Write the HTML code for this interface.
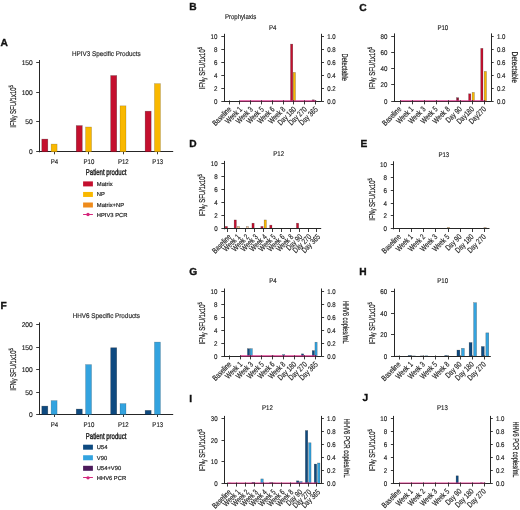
<!DOCTYPE html><html><head><meta charset="utf-8"><style>html,body{margin:0;padding:0;background:#fff;}svg{display:block;filter:blur(0.35px);}text{font-family:"Liberation Sans",sans-serif;text-rendering:geometricPrecision;}</style></head><body>
<svg width="520" height="510" viewBox="0 0 520 510">
<rect width="520" height="510" fill="#fff"/>
<text x="0.6" y="46.3" font-size="10.2" font-weight="bold" fill="#111" stroke="#111" stroke-width="0.35">A</text>
<text transform="translate(106.3,55.5) scale(0.915,1)" font-size="6.9" text-anchor="middle" font-weight="normal" fill="#222" stroke="#222" stroke-width="0.15" >HPIV3 Specific Products</text>
<line x1="39.5" y1="60" x2="39.5" y2="152.3" stroke="#262626" stroke-width="1.0"/>
<line x1="36.2" y1="151.5" x2="39.2" y2="151.5" stroke="#262626" stroke-width="0.9"/>
<text transform="translate(32.8,154.3) scale(0.97,1)" font-size="6.9" text-anchor="end" font-weight="normal" fill="#222222" stroke="#222222" stroke-width="0.15" >0</text>
<line x1="36.2" y1="121.5" x2="39.2" y2="121.5" stroke="#262626" stroke-width="0.9"/>
<text transform="translate(32.8,124.4) scale(0.97,1)" font-size="6.9" text-anchor="end" font-weight="normal" fill="#222222" stroke="#222222" stroke-width="0.15" >50</text>
<line x1="36.2" y1="92.5" x2="39.2" y2="92.5" stroke="#262626" stroke-width="0.9"/>
<text transform="translate(32.8,94.5) scale(0.97,1)" font-size="6.9" text-anchor="end" font-weight="normal" fill="#222222" stroke="#222222" stroke-width="0.15" >100</text>
<line x1="36.2" y1="62.5" x2="39.2" y2="62.5" stroke="#262626" stroke-width="0.9"/>
<text transform="translate(32.8,64.6) scale(0.97,1)" font-size="6.9" text-anchor="end" font-weight="normal" fill="#222222" stroke="#222222" stroke-width="0.15" >150</text>
<line x1="38.7" y1="151.5" x2="173.2" y2="151.5" stroke="#262626" stroke-width="1.0"/>
<line x1="54.5" y1="151.8" x2="54.5" y2="154.3" stroke="#262626" stroke-width="0.9"/>
<text transform="translate(54.4,163.8) scale(0.88,1)" font-size="6.9" text-anchor="middle" font-weight="normal" fill="#222222" stroke="#222222" stroke-width="0.15" >P4</text>
<rect x="41.8" y="139.12" width="6" height="12.68" fill="#C40F2E" stroke="#000" stroke-width="0.6" stroke-opacity="0.35"/>
<rect x="51.1" y="144.09" width="6" height="7.71" fill="#F9B800" stroke="#000" stroke-width="0.6" stroke-opacity="0.25"/>
<line x1="88.5" y1="151.8" x2="88.5" y2="154.3" stroke="#262626" stroke-width="0.9"/>
<text transform="translate(88.85,163.8) scale(0.88,1)" font-size="6.9" text-anchor="middle" font-weight="normal" fill="#222222" stroke="#222222" stroke-width="0.15" >P10</text>
<rect x="76.25" y="125.61" width="6" height="26.19" fill="#C40F2E" stroke="#000" stroke-width="0.6" stroke-opacity="0.35"/>
<rect x="85.55" y="126.98" width="6" height="24.82" fill="#F9B800" stroke="#000" stroke-width="0.6" stroke-opacity="0.25"/>
<line x1="123.5" y1="151.8" x2="123.5" y2="154.3" stroke="#262626" stroke-width="0.9"/>
<text transform="translate(123.3,163.8) scale(0.88,1)" font-size="6.9" text-anchor="middle" font-weight="normal" fill="#222222" stroke="#222222" stroke-width="0.15" >P12</text>
<rect x="110.7" y="75.56" width="6" height="76.24" fill="#C40F2E" stroke="#000" stroke-width="0.6" stroke-opacity="0.35"/>
<rect x="120" y="105.81" width="6" height="45.99" fill="#F9B800" stroke="#000" stroke-width="0.6" stroke-opacity="0.25"/>
<line x1="157.5" y1="151.8" x2="157.5" y2="154.3" stroke="#262626" stroke-width="0.9"/>
<text transform="translate(157.75,163.8) scale(0.88,1)" font-size="6.9" text-anchor="middle" font-weight="normal" fill="#222222" stroke="#222222" stroke-width="0.15" >P13</text>
<rect x="145.15" y="111.2" width="6" height="40.6" fill="#C40F2E" stroke="#000" stroke-width="0.6" stroke-opacity="0.35"/>
<rect x="154.45" y="83.63" width="6" height="68.17" fill="#F9B800" stroke="#000" stroke-width="0.6" stroke-opacity="0.25"/>
<g transform="translate(15.5,127.7) rotate(-90)">
<text x="0" y="0" font-size="8.4" stroke="#1a1a1a" stroke-width="0.22" fill="#1a1a1a" textLength="42.6" lengthAdjust="spacingAndGlyphs">IFN<tspan font-size="7.14" dy="0.8">γ</tspan><tspan dy="-0.8"> SFU/1x10</tspan><tspan font-size="6.05" dy="-3.0">5</tspan></text>
</g>
<text x="106.1" y="175.3" font-size="8.5" stroke="#1a1a1a" stroke-width="0.38" text-anchor="middle" fill="#1a1a1a" textLength="40.5" lengthAdjust="spacingAndGlyphs">Patient product</text>
<rect x="83.1" y="181.4" width="9.8" height="5" fill="#C40F2E"/>
<text x="96.8" y="185.8" font-size="5.8" text-anchor="start" font-weight="normal" fill="#222" stroke="#222" stroke-width="0.18" >Matrix</text>
<rect x="83.1" y="191.95" width="9.8" height="5" fill="#F9B800"/>
<text x="96.8" y="196.35" font-size="5.8" text-anchor="start" font-weight="normal" fill="#222" stroke="#222" stroke-width="0.18" >NP</text>
<rect x="83.1" y="202.5" width="9.8" height="5" fill="#EE8B1C"/>
<text x="96.8" y="206.9" font-size="5.8" text-anchor="start" font-weight="normal" fill="#222" stroke="#222" stroke-width="0.18" >Matrix+NP</text>
<line x1="83.1" y1="214.5" x2="92.9" y2="214.5" stroke="#D5267C" stroke-width="1.0"/>
<circle cx="88" cy="214.55" r="1.7" fill="#D5267C"/>
<text x="96.8" y="216.75" font-size="5.8" text-anchor="start" font-weight="normal" fill="#222" stroke="#222" stroke-width="0.18" >HPIV3 PCR</text>
<text x="0.6" y="308.8" font-size="10.2" font-weight="bold" fill="#111" stroke="#111" stroke-width="0.35">F</text>
<text transform="translate(106.3,317.9) scale(0.915,1)" font-size="6.9" text-anchor="middle" font-weight="normal" fill="#222" stroke="#222" stroke-width="0.15" >HHV6 Specific Products</text>
<line x1="39.5" y1="322.4" x2="39.5" y2="415" stroke="#262626" stroke-width="1.0"/>
<line x1="36.2" y1="414.5" x2="39.2" y2="414.5" stroke="#262626" stroke-width="0.9"/>
<text transform="translate(32.8,417) scale(0.97,1)" font-size="6.9" text-anchor="end" font-weight="normal" fill="#222222" stroke="#222222" stroke-width="0.15" >0</text>
<line x1="36.2" y1="392.5" x2="39.2" y2="392.5" stroke="#262626" stroke-width="0.9"/>
<text transform="translate(32.8,394.5) scale(0.97,1)" font-size="6.9" text-anchor="end" font-weight="normal" fill="#222222" stroke="#222222" stroke-width="0.15" >50</text>
<line x1="36.2" y1="369.5" x2="39.2" y2="369.5" stroke="#262626" stroke-width="0.9"/>
<text transform="translate(32.8,372) scale(0.97,1)" font-size="6.9" text-anchor="end" font-weight="normal" fill="#222222" stroke="#222222" stroke-width="0.15" >100</text>
<line x1="36.2" y1="347.5" x2="39.2" y2="347.5" stroke="#262626" stroke-width="0.9"/>
<text transform="translate(32.8,349.5) scale(0.97,1)" font-size="6.9" text-anchor="end" font-weight="normal" fill="#222222" stroke="#222222" stroke-width="0.15" >150</text>
<line x1="36.2" y1="324.5" x2="39.2" y2="324.5" stroke="#262626" stroke-width="0.9"/>
<text transform="translate(32.8,327) scale(0.97,1)" font-size="6.9" text-anchor="end" font-weight="normal" fill="#222222" stroke="#222222" stroke-width="0.15" >200</text>
<line x1="38.7" y1="414.5" x2="173.2" y2="414.5" stroke="#262626" stroke-width="1.0"/>
<line x1="54.5" y1="414.5" x2="54.5" y2="417" stroke="#262626" stroke-width="0.9"/>
<text transform="translate(54.4,426.5) scale(0.88,1)" font-size="6.9" text-anchor="middle" font-weight="normal" fill="#222222" stroke="#222222" stroke-width="0.15" >P4</text>
<rect x="41.8" y="406.12" width="6" height="8.38" fill="#0E4A80" stroke="#000" stroke-width="0.6" stroke-opacity="0.35"/>
<rect x="51.1" y="400.58" width="6" height="13.92" fill="#33A3DF" stroke="#000" stroke-width="0.6" stroke-opacity="0.25"/>
<line x1="88.5" y1="414.5" x2="88.5" y2="417" stroke="#262626" stroke-width="0.9"/>
<text transform="translate(88.85,426.5) scale(0.88,1)" font-size="6.9" text-anchor="middle" font-weight="normal" fill="#222222" stroke="#222222" stroke-width="0.15" >P10</text>
<rect x="76.25" y="409.09" width="6" height="5.42" fill="#0E4A80" stroke="#000" stroke-width="0.6" stroke-opacity="0.35"/>
<rect x="85.55" y="364.58" width="6" height="49.92" fill="#33A3DF" stroke="#000" stroke-width="0.6" stroke-opacity="0.25"/>
<line x1="123.5" y1="414.5" x2="123.5" y2="417" stroke="#262626" stroke-width="0.9"/>
<text transform="translate(123.3,426.5) scale(0.88,1)" font-size="6.9" text-anchor="middle" font-weight="normal" fill="#222222" stroke="#222222" stroke-width="0.15" >P12</text>
<rect x="110.7" y="347.75" width="6" height="66.75" fill="#0E4A80" stroke="#000" stroke-width="0.6" stroke-opacity="0.35"/>
<rect x="120" y="403.55" width="6" height="10.95" fill="#33A3DF" stroke="#000" stroke-width="0.6" stroke-opacity="0.25"/>
<line x1="157.5" y1="414.5" x2="157.5" y2="417" stroke="#262626" stroke-width="0.9"/>
<text transform="translate(157.75,426.5) scale(0.88,1)" font-size="6.9" text-anchor="middle" font-weight="normal" fill="#222222" stroke="#222222" stroke-width="0.15" >P13</text>
<rect x="145.15" y="410.39" width="6" height="4.11" fill="#0E4A80" stroke="#000" stroke-width="0.6" stroke-opacity="0.35"/>
<rect x="154.45" y="342.08" width="6" height="72.42" fill="#33A3DF" stroke="#000" stroke-width="0.6" stroke-opacity="0.25"/>
<g transform="translate(15.5,390.7) rotate(-90)">
<text x="0" y="0" font-size="8.4" stroke="#1a1a1a" stroke-width="0.22" fill="#1a1a1a" textLength="42.6" lengthAdjust="spacingAndGlyphs">IFN<tspan font-size="7.14" dy="0.8">γ</tspan><tspan dy="-0.8"> SFU/1x10</tspan><tspan font-size="6.05" dy="-3.0">5</tspan></text>
</g>
<text x="106.1" y="438.6" font-size="8.5" stroke="#1a1a1a" stroke-width="0.38" text-anchor="middle" fill="#1a1a1a" textLength="40.5" lengthAdjust="spacingAndGlyphs">Patient product</text>
<rect x="83.1" y="444.7" width="9.8" height="5" fill="#0E4A80"/>
<text x="96.8" y="449.1" font-size="5.8" text-anchor="start" font-weight="normal" fill="#222" stroke="#222" stroke-width="0.18" >U54</text>
<rect x="83.1" y="455.25" width="9.8" height="5" fill="#33A3DF"/>
<text x="96.8" y="459.65" font-size="5.8" text-anchor="start" font-weight="normal" fill="#222" stroke="#222" stroke-width="0.18" >V90</text>
<rect x="83.1" y="465.8" width="9.8" height="5" fill="#4D1B5C"/>
<text x="96.8" y="470.2" font-size="5.8" text-anchor="start" font-weight="normal" fill="#222" stroke="#222" stroke-width="0.18" >U54+V90</text>
<line x1="83.1" y1="477.5" x2="92.9" y2="477.5" stroke="#D5267C" stroke-width="1.0"/>
<circle cx="88" cy="477.85" r="1.7" fill="#D5267C"/>
<text x="96.8" y="480.05" font-size="5.8" text-anchor="start" font-weight="normal" fill="#222" stroke="#222" stroke-width="0.18" >HHV6 PCR</text>
<text transform="translate(224.9,18.9) scale(0.88,1)" font-size="6.9" text-anchor="start" font-weight="normal" fill="#222" stroke="#222" stroke-width="0.15" >Prophylaxis</text>
<line x1="224.5" y1="33.8" x2="224.5" y2="101.7" stroke="#262626" stroke-width="1.0"/>
<line x1="221.3" y1="101.5" x2="224.3" y2="101.5" stroke="#262626" stroke-width="0.9"/>
<text transform="translate(217.5,103.7) scale(0.9,1)" font-size="6.9" text-anchor="end" font-weight="normal" fill="#222222" stroke="#222222" stroke-width="0.15" >0</text>
<line x1="221.3" y1="88.5" x2="224.3" y2="88.5" stroke="#262626" stroke-width="0.9"/>
<text transform="translate(217.5,90.82) scale(0.9,1)" font-size="6.9" text-anchor="end" font-weight="normal" fill="#222222" stroke="#222222" stroke-width="0.15" >2</text>
<line x1="221.3" y1="75.5" x2="224.3" y2="75.5" stroke="#262626" stroke-width="0.9"/>
<text transform="translate(217.5,77.94) scale(0.9,1)" font-size="6.9" text-anchor="end" font-weight="normal" fill="#222222" stroke="#222222" stroke-width="0.15" >4</text>
<line x1="221.3" y1="62.5" x2="224.3" y2="62.5" stroke="#262626" stroke-width="0.9"/>
<text transform="translate(217.5,65.06) scale(0.9,1)" font-size="6.9" text-anchor="end" font-weight="normal" fill="#222222" stroke="#222222" stroke-width="0.15" >6</text>
<line x1="221.3" y1="49.5" x2="224.3" y2="49.5" stroke="#262626" stroke-width="0.9"/>
<text transform="translate(217.5,52.18) scale(0.9,1)" font-size="6.9" text-anchor="end" font-weight="normal" fill="#222222" stroke="#222222" stroke-width="0.15" >8</text>
<line x1="221.3" y1="36.5" x2="224.3" y2="36.5" stroke="#262626" stroke-width="0.9"/>
<text transform="translate(217.5,39.3) scale(0.9,1)" font-size="6.9" text-anchor="end" font-weight="normal" fill="#222222" stroke="#222222" stroke-width="0.15" >10</text>
<line x1="321.5" y1="33.8" x2="321.5" y2="101.7" stroke="#262626" stroke-width="1.0"/>
<line x1="321.4" y1="101.5" x2="324" y2="101.5" stroke="#262626" stroke-width="0.9"/>
<text transform="translate(327.2,103.7) scale(0.88,1)" font-size="6.9" text-anchor="start" font-weight="normal" fill="#222222" stroke="#222222" stroke-width="0.15" >0.0</text>
<line x1="321.4" y1="88.5" x2="324" y2="88.5" stroke="#262626" stroke-width="0.9"/>
<text transform="translate(327.2,90.82) scale(0.88,1)" font-size="6.9" text-anchor="start" font-weight="normal" fill="#222222" stroke="#222222" stroke-width="0.15" >0.2</text>
<line x1="321.4" y1="75.5" x2="324" y2="75.5" stroke="#262626" stroke-width="0.9"/>
<text transform="translate(327.2,77.94) scale(0.88,1)" font-size="6.9" text-anchor="start" font-weight="normal" fill="#222222" stroke="#222222" stroke-width="0.15" >0.4</text>
<line x1="321.4" y1="62.5" x2="324" y2="62.5" stroke="#262626" stroke-width="0.9"/>
<text transform="translate(327.2,65.06) scale(0.88,1)" font-size="6.9" text-anchor="start" font-weight="normal" fill="#222222" stroke="#222222" stroke-width="0.15" >0.6</text>
<line x1="321.4" y1="49.5" x2="324" y2="49.5" stroke="#262626" stroke-width="0.9"/>
<text transform="translate(327.2,52.18) scale(0.88,1)" font-size="6.9" text-anchor="start" font-weight="normal" fill="#222222" stroke="#222222" stroke-width="0.15" >0.8</text>
<line x1="321.4" y1="36.5" x2="324" y2="36.5" stroke="#262626" stroke-width="0.9"/>
<text transform="translate(327.2,39.3) scale(0.88,1)" font-size="6.9" text-anchor="start" font-weight="normal" fill="#222222" stroke="#222222" stroke-width="0.15" >1.0</text>
<g transform="translate(341.9,67.3) rotate(90)">
<text x="0" y="0" font-size="8.4" stroke="#1a1a1a" stroke-width="0.22" text-anchor="middle" fill="#1a1a1a" textLength="27.5" lengthAdjust="spacingAndGlyphs">Detectable</text>
</g>
<text transform="translate(231.9,109.8) rotate(-45) scale(0.77,1)" font-size="7.9" text-anchor="end" fill="#222222" stroke="#222222" stroke-width="0.16">Baseline</text>
<text transform="translate(242.7,109.8) rotate(-45) scale(0.77,1)" font-size="7.9" text-anchor="end" fill="#222222" stroke="#222222" stroke-width="0.16">Week 1</text>
<text transform="translate(253.5,109.8) rotate(-45) scale(0.77,1)" font-size="7.9" text-anchor="end" fill="#222222" stroke="#222222" stroke-width="0.16">Week 3</text>
<text transform="translate(264.3,109.8) rotate(-45) scale(0.77,1)" font-size="7.9" text-anchor="end" fill="#222222" stroke="#222222" stroke-width="0.16">Week 5</text>
<text transform="translate(275.1,109.8) rotate(-45) scale(0.77,1)" font-size="7.9" text-anchor="end" fill="#222222" stroke="#222222" stroke-width="0.16">Week 6</text>
<text transform="translate(285.9,109.8) rotate(-45) scale(0.77,1)" font-size="7.9" text-anchor="end" fill="#222222" stroke="#222222" stroke-width="0.16">Week 8</text>
<text transform="translate(296.7,109.8) rotate(-45) scale(0.77,1)" font-size="7.9" text-anchor="end" fill="#222222" stroke="#222222" stroke-width="0.16">Day 180</text>
<text transform="translate(307.5,109.8) rotate(-45) scale(0.77,1)" font-size="7.9" text-anchor="end" fill="#222222" stroke="#222222" stroke-width="0.16">Day 270</text>
<text transform="translate(318.3,109.8) rotate(-45) scale(0.77,1)" font-size="7.9" text-anchor="end" fill="#222222" stroke="#222222" stroke-width="0.16">Day 365</text>
<rect x="290.55" y="44.13" width="2.2" height="57.07" fill="#C40F2E" stroke="#000" stroke-width="0.5" stroke-opacity="0.4"/>
<rect x="293.25" y="72.47" width="2.2" height="28.73" fill="#F9B800" stroke="#000" stroke-width="0.5" stroke-opacity="0.4"/>
<rect x="312.15" y="99.84" width="2.2" height="1.36" fill="#5a1a28" stroke="#000" stroke-width="0.5" stroke-opacity="0.4"/>
<line x1="223.8" y1="101.5" x2="321.4" y2="101.5" stroke="#262626" stroke-width="1.0"/>
<line x1="239.9" y1="100.85" x2="316.3" y2="100.85" stroke="#DA2C88" stroke-width="1.1" stroke-opacity="0.9"/>
<line x1="229.5" y1="100.4" x2="229.5" y2="104.4" stroke="#262626" stroke-width="0.9"/>
<line x1="239.5" y1="100.4" x2="239.5" y2="104.4" stroke="#262626" stroke-width="0.9"/>
<line x1="250.5" y1="100.4" x2="250.5" y2="104.4" stroke="#262626" stroke-width="0.9"/>
<line x1="261.5" y1="100.4" x2="261.5" y2="104.4" stroke="#262626" stroke-width="0.9"/>
<line x1="272.5" y1="100.4" x2="272.5" y2="104.4" stroke="#262626" stroke-width="0.9"/>
<line x1="283.5" y1="100.4" x2="283.5" y2="104.4" stroke="#262626" stroke-width="0.9"/>
<line x1="293.5" y1="100.4" x2="293.5" y2="104.4" stroke="#262626" stroke-width="0.9"/>
<line x1="304.5" y1="100.4" x2="304.5" y2="104.4" stroke="#262626" stroke-width="0.9"/>
<line x1="315.5" y1="100.4" x2="315.5" y2="104.4" stroke="#262626" stroke-width="0.9"/>
<text transform="translate(272.6,29.5) scale(0.88,1)" font-size="6.9" text-anchor="middle" font-weight="normal" fill="#222" stroke="#222" stroke-width="0.15" >P4</text>
<text x="189.3" y="9.8" font-size="10.2" font-weight="bold" fill="#111" stroke="#111" stroke-width="0.35">B</text>
<g transform="translate(204.8,89.5) rotate(-90)">
<text x="0" y="0" font-size="8.4" stroke="#1a1a1a" stroke-width="0.22" fill="#1a1a1a" textLength="42.6" lengthAdjust="spacingAndGlyphs">IFN<tspan font-size="7.14" dy="0.8">γ</tspan><tspan dy="-0.8"> SFU/1x10</tspan><tspan font-size="6.05" dy="-3.0">5</tspan></text>
</g>
<line x1="394.5" y1="33.4" x2="394.5" y2="101.6" stroke="#262626" stroke-width="1.0"/>
<line x1="391.2" y1="101.5" x2="394.2" y2="101.5" stroke="#262626" stroke-width="0.9"/>
<text transform="translate(387.4,103.6) scale(0.9,1)" font-size="6.9" text-anchor="end" font-weight="normal" fill="#222222" stroke="#222222" stroke-width="0.15" >0</text>
<line x1="391.2" y1="84.5" x2="394.2" y2="84.5" stroke="#262626" stroke-width="0.9"/>
<text transform="translate(387.4,87.42) scale(0.9,1)" font-size="6.9" text-anchor="end" font-weight="normal" fill="#222222" stroke="#222222" stroke-width="0.15" >20</text>
<line x1="391.2" y1="68.5" x2="394.2" y2="68.5" stroke="#262626" stroke-width="0.9"/>
<text transform="translate(387.4,71.25) scale(0.9,1)" font-size="6.9" text-anchor="end" font-weight="normal" fill="#222222" stroke="#222222" stroke-width="0.15" >40</text>
<line x1="391.2" y1="52.5" x2="394.2" y2="52.5" stroke="#262626" stroke-width="0.9"/>
<text transform="translate(387.4,55.08) scale(0.9,1)" font-size="6.9" text-anchor="end" font-weight="normal" fill="#222222" stroke="#222222" stroke-width="0.15" >60</text>
<line x1="391.2" y1="36.5" x2="394.2" y2="36.5" stroke="#262626" stroke-width="0.9"/>
<text transform="translate(387.4,38.9) scale(0.9,1)" font-size="6.9" text-anchor="end" font-weight="normal" fill="#222222" stroke="#222222" stroke-width="0.15" >80</text>
<line x1="491.5" y1="33.4" x2="491.5" y2="101.6" stroke="#262626" stroke-width="1.0"/>
<line x1="491.1" y1="101.5" x2="493.7" y2="101.5" stroke="#262626" stroke-width="0.9"/>
<text transform="translate(496.9,103.6) scale(0.88,1)" font-size="6.9" text-anchor="start" font-weight="normal" fill="#222222" stroke="#222222" stroke-width="0.15" >0.0</text>
<line x1="491.1" y1="88.5" x2="493.7" y2="88.5" stroke="#262626" stroke-width="0.9"/>
<text transform="translate(496.9,90.66) scale(0.88,1)" font-size="6.9" text-anchor="start" font-weight="normal" fill="#222222" stroke="#222222" stroke-width="0.15" >0.2</text>
<line x1="491.1" y1="75.5" x2="493.7" y2="75.5" stroke="#262626" stroke-width="0.9"/>
<text transform="translate(496.9,77.72) scale(0.88,1)" font-size="6.9" text-anchor="start" font-weight="normal" fill="#222222" stroke="#222222" stroke-width="0.15" >0.4</text>
<line x1="491.1" y1="62.5" x2="493.7" y2="62.5" stroke="#262626" stroke-width="0.9"/>
<text transform="translate(496.9,64.78) scale(0.88,1)" font-size="6.9" text-anchor="start" font-weight="normal" fill="#222222" stroke="#222222" stroke-width="0.15" >0.6</text>
<line x1="491.1" y1="49.5" x2="493.7" y2="49.5" stroke="#262626" stroke-width="0.9"/>
<text transform="translate(496.9,51.84) scale(0.88,1)" font-size="6.9" text-anchor="start" font-weight="normal" fill="#222222" stroke="#222222" stroke-width="0.15" >0.8</text>
<line x1="491.1" y1="36.5" x2="493.7" y2="36.5" stroke="#262626" stroke-width="0.9"/>
<text transform="translate(496.9,38.9) scale(0.88,1)" font-size="6.9" text-anchor="start" font-weight="normal" fill="#222222" stroke="#222222" stroke-width="0.15" >1.0</text>
<g transform="translate(512.2,67.2) rotate(90)">
<text x="0" y="0" font-size="8.4" stroke="#1a1a1a" stroke-width="0.22" text-anchor="middle" fill="#1a1a1a" textLength="31.5" lengthAdjust="spacingAndGlyphs">Detectable</text>
</g>
<text transform="translate(401.8,109.7) rotate(-45) scale(0.77,1)" font-size="7.9" text-anchor="end" fill="#222222" stroke="#222222" stroke-width="0.16">Baseline</text>
<text transform="translate(413.93,109.7) rotate(-45) scale(0.77,1)" font-size="7.9" text-anchor="end" fill="#222222" stroke="#222222" stroke-width="0.16">Week 1</text>
<text transform="translate(426.06,109.7) rotate(-45) scale(0.77,1)" font-size="7.9" text-anchor="end" fill="#222222" stroke="#222222" stroke-width="0.16">Week 3</text>
<text transform="translate(438.19,109.7) rotate(-45) scale(0.77,1)" font-size="7.9" text-anchor="end" fill="#222222" stroke="#222222" stroke-width="0.16">Week 5</text>
<text transform="translate(450.32,109.7) rotate(-45) scale(0.77,1)" font-size="7.9" text-anchor="end" fill="#222222" stroke="#222222" stroke-width="0.16">Week 8</text>
<text transform="translate(462.45,109.7) rotate(-45) scale(0.77,1)" font-size="7.9" text-anchor="end" fill="#222222" stroke="#222222" stroke-width="0.16">Day 90</text>
<text transform="translate(474.58,109.7) rotate(-45) scale(0.77,1)" font-size="7.9" text-anchor="end" fill="#222222" stroke="#222222" stroke-width="0.16">Day180</text>
<text transform="translate(486.71,109.7) rotate(-45) scale(0.77,1)" font-size="7.9" text-anchor="end" fill="#222222" stroke="#222222" stroke-width="0.16">Day270</text>
<rect x="456.5" y="97.71" width="2.2" height="3.39" fill="#8e1030" stroke="#000" stroke-width="0.5" stroke-opacity="0.4"/>
<rect x="468.63" y="93.83" width="2.2" height="7.27" fill="#C40F2E" stroke="#000" stroke-width="0.5" stroke-opacity="0.4"/>
<rect x="472.13" y="92.45" width="2.2" height="8.65" fill="#F9B800" stroke="#000" stroke-width="0.5" stroke-opacity="0.4"/>
<rect x="480.76" y="48.38" width="2.2" height="52.72" fill="#C40F2E" stroke="#000" stroke-width="0.5" stroke-opacity="0.4"/>
<rect x="484.26" y="71.43" width="2.2" height="29.67" fill="#F9B800" stroke="#000" stroke-width="0.5" stroke-opacity="0.4"/>
<line x1="393.7" y1="101.5" x2="491.1" y2="101.5" stroke="#262626" stroke-width="1.0"/>
<line x1="400" y1="100.75" x2="485.71" y2="100.75" stroke="#DA2C88" stroke-width="1.1" stroke-opacity="0.9"/>
<line x1="400.5" y1="100.3" x2="400.5" y2="104.3" stroke="#262626" stroke-width="0.9"/>
<line x1="412.5" y1="100.3" x2="412.5" y2="104.3" stroke="#262626" stroke-width="0.9"/>
<line x1="424.5" y1="100.3" x2="424.5" y2="104.3" stroke="#262626" stroke-width="0.9"/>
<line x1="436.5" y1="100.3" x2="436.5" y2="104.3" stroke="#262626" stroke-width="0.9"/>
<line x1="448.5" y1="100.3" x2="448.5" y2="104.3" stroke="#262626" stroke-width="0.9"/>
<line x1="460.5" y1="100.3" x2="460.5" y2="104.3" stroke="#262626" stroke-width="0.9"/>
<line x1="472.5" y1="100.3" x2="472.5" y2="104.3" stroke="#262626" stroke-width="0.9"/>
<line x1="484.5" y1="100.3" x2="484.5" y2="104.3" stroke="#262626" stroke-width="0.9"/>
<text transform="translate(442.8,29.5) scale(0.88,1)" font-size="6.9" text-anchor="middle" font-weight="normal" fill="#222" stroke="#222" stroke-width="0.15" >P10</text>
<text x="359.3" y="10.8" font-size="10.2" font-weight="bold" fill="#111" stroke="#111" stroke-width="0.35">C</text>
<g transform="translate(374.6,89.5) rotate(-90)">
<text x="0" y="0" font-size="8.4" stroke="#1a1a1a" stroke-width="0.22" fill="#1a1a1a" textLength="42.6" lengthAdjust="spacingAndGlyphs">IFN<tspan font-size="7.14" dy="0.8">γ</tspan><tspan dy="-0.8"> SFU/1x10</tspan><tspan font-size="6.05" dy="-3.0">5</tspan></text>
</g>
<line x1="224.5" y1="160.9" x2="224.5" y2="229.3" stroke="#262626" stroke-width="1.0"/>
<line x1="221.4" y1="228.5" x2="224.4" y2="228.5" stroke="#262626" stroke-width="0.9"/>
<text transform="translate(217.6,231.3) scale(0.9,1)" font-size="6.9" text-anchor="end" font-weight="normal" fill="#222222" stroke="#222222" stroke-width="0.15" >0</text>
<line x1="221.4" y1="215.5" x2="224.4" y2="215.5" stroke="#262626" stroke-width="0.9"/>
<text transform="translate(217.6,218.32) scale(0.9,1)" font-size="6.9" text-anchor="end" font-weight="normal" fill="#222222" stroke="#222222" stroke-width="0.15" >2</text>
<line x1="221.4" y1="202.5" x2="224.4" y2="202.5" stroke="#262626" stroke-width="0.9"/>
<text transform="translate(217.6,205.34) scale(0.9,1)" font-size="6.9" text-anchor="end" font-weight="normal" fill="#222222" stroke="#222222" stroke-width="0.15" >4</text>
<line x1="221.4" y1="189.5" x2="224.4" y2="189.5" stroke="#262626" stroke-width="0.9"/>
<text transform="translate(217.6,192.36) scale(0.9,1)" font-size="6.9" text-anchor="end" font-weight="normal" fill="#222222" stroke="#222222" stroke-width="0.15" >6</text>
<line x1="221.4" y1="176.5" x2="224.4" y2="176.5" stroke="#262626" stroke-width="0.9"/>
<text transform="translate(217.6,179.38) scale(0.9,1)" font-size="6.9" text-anchor="end" font-weight="normal" fill="#222222" stroke="#222222" stroke-width="0.15" >8</text>
<line x1="221.4" y1="163.5" x2="224.4" y2="163.5" stroke="#262626" stroke-width="0.9"/>
<text transform="translate(217.6,166.4) scale(0.9,1)" font-size="6.9" text-anchor="end" font-weight="normal" fill="#222222" stroke="#222222" stroke-width="0.15" >10</text>
<text transform="translate(231.7,237.4) rotate(-45) scale(0.77,1)" font-size="7.9" text-anchor="end" fill="#222222" stroke="#222222" stroke-width="0.16">Baseline</text>
<text transform="translate(240.6,237.4) rotate(-45) scale(0.77,1)" font-size="7.9" text-anchor="end" fill="#222222" stroke="#222222" stroke-width="0.16">Week 1</text>
<text transform="translate(249.5,237.4) rotate(-45) scale(0.77,1)" font-size="7.9" text-anchor="end" fill="#222222" stroke="#222222" stroke-width="0.16">Week 2</text>
<text transform="translate(258.4,237.4) rotate(-45) scale(0.77,1)" font-size="7.9" text-anchor="end" fill="#222222" stroke="#222222" stroke-width="0.16">Week 3</text>
<text transform="translate(267.3,237.4) rotate(-45) scale(0.77,1)" font-size="7.9" text-anchor="end" fill="#222222" stroke="#222222" stroke-width="0.16">Week 4</text>
<text transform="translate(276.2,237.4) rotate(-45) scale(0.77,1)" font-size="7.9" text-anchor="end" fill="#222222" stroke="#222222" stroke-width="0.16">Week 5</text>
<text transform="translate(285.1,237.4) rotate(-45) scale(0.77,1)" font-size="7.9" text-anchor="end" fill="#222222" stroke="#222222" stroke-width="0.16">Week 6</text>
<text transform="translate(294,237.4) rotate(-45) scale(0.77,1)" font-size="7.9" text-anchor="end" fill="#222222" stroke="#222222" stroke-width="0.16">Week 8</text>
<text transform="translate(302.9,237.4) rotate(-45) scale(0.77,1)" font-size="7.9" text-anchor="end" fill="#222222" stroke="#222222" stroke-width="0.16">Day 90</text>
<text transform="translate(311.8,237.4) rotate(-45) scale(0.77,1)" font-size="7.9" text-anchor="end" fill="#222222" stroke="#222222" stroke-width="0.16">Day 270</text>
<text transform="translate(320.7,237.4) rotate(-45) scale(0.77,1)" font-size="7.9" text-anchor="end" fill="#222222" stroke="#222222" stroke-width="0.16">Day 365</text>
<rect x="225.25" y="226.45" width="2.2" height="2.35" fill="#C40F2E" stroke="#000" stroke-width="0.5" stroke-opacity="0.4"/>
<rect x="234.15" y="219.96" width="2.2" height="8.84" fill="#C40F2E" stroke="#000" stroke-width="0.5" stroke-opacity="0.4"/>
<rect x="237.45" y="226.45" width="2.2" height="2.35" fill="#f7c884" stroke="#000" stroke-width="0.5" stroke-opacity="0.4"/>
<rect x="246.35" y="226.45" width="2.2" height="2.35" fill="#f5c7a0" stroke="#000" stroke-width="0.5" stroke-opacity="0.4"/>
<rect x="251.95" y="223.21" width="2.2" height="5.59" fill="#C40F2E" stroke="#000" stroke-width="0.5" stroke-opacity="0.4"/>
<rect x="260.85" y="226.45" width="2.2" height="2.35" fill="#C40F2E" stroke="#000" stroke-width="0.5" stroke-opacity="0.4"/>
<rect x="264.15" y="219.96" width="2.2" height="8.84" fill="#F9B800" stroke="#000" stroke-width="0.5" stroke-opacity="0.4"/>
<rect x="269.75" y="225.16" width="2.2" height="3.64" fill="#C40F2E" stroke="#000" stroke-width="0.5" stroke-opacity="0.4"/>
<rect x="296.45" y="223.21" width="2.2" height="5.59" fill="#C40F2E" stroke="#000" stroke-width="0.5" stroke-opacity="0.4"/>
<line x1="223.9" y1="228.5" x2="321.2" y2="228.5" stroke="#262626" stroke-width="1.0"/>
<line x1="227.5" y1="228" x2="227.5" y2="232" stroke="#262626" stroke-width="0.9"/>
<line x1="236.5" y1="228" x2="236.5" y2="232" stroke="#262626" stroke-width="0.9"/>
<line x1="245.5" y1="228" x2="245.5" y2="232" stroke="#262626" stroke-width="0.9"/>
<line x1="254.5" y1="228" x2="254.5" y2="232" stroke="#262626" stroke-width="0.9"/>
<line x1="263.5" y1="228" x2="263.5" y2="232" stroke="#262626" stroke-width="0.9"/>
<line x1="272.5" y1="228" x2="272.5" y2="232" stroke="#262626" stroke-width="0.9"/>
<line x1="281.5" y1="228" x2="281.5" y2="232" stroke="#262626" stroke-width="0.9"/>
<line x1="290.5" y1="228" x2="290.5" y2="232" stroke="#262626" stroke-width="0.9"/>
<line x1="299.5" y1="228" x2="299.5" y2="232" stroke="#262626" stroke-width="0.9"/>
<line x1="308.5" y1="228" x2="308.5" y2="232" stroke="#262626" stroke-width="0.9"/>
<line x1="316.5" y1="228" x2="316.5" y2="232" stroke="#262626" stroke-width="0.9"/>
<text transform="translate(278.7,155.8) scale(0.88,1)" font-size="6.9" text-anchor="middle" font-weight="normal" fill="#222" stroke="#222" stroke-width="0.15" >P12</text>
<text x="189.3" y="147.3" font-size="10.2" font-weight="bold" fill="#111" stroke="#111" stroke-width="0.35">D</text>
<g transform="translate(204.8,216.6) rotate(-90)">
<text x="0" y="0" font-size="8.4" stroke="#1a1a1a" stroke-width="0.22" fill="#1a1a1a" textLength="42.6" lengthAdjust="spacingAndGlyphs">IFN<tspan font-size="7.14" dy="0.8">γ</tspan><tspan dy="-0.8"> SFU/1x10</tspan><tspan font-size="6.05" dy="-3.0">5</tspan></text>
</g>
<line x1="393.5" y1="161.3" x2="393.5" y2="229.3" stroke="#262626" stroke-width="1.0"/>
<line x1="390.8" y1="228.5" x2="393.8" y2="228.5" stroke="#262626" stroke-width="0.9"/>
<text transform="translate(387,231.3) scale(0.9,1)" font-size="6.9" text-anchor="end" font-weight="normal" fill="#222222" stroke="#222222" stroke-width="0.15" >0</text>
<line x1="390.8" y1="215.5" x2="393.8" y2="215.5" stroke="#262626" stroke-width="0.9"/>
<text transform="translate(387,218.4) scale(0.9,1)" font-size="6.9" text-anchor="end" font-weight="normal" fill="#222222" stroke="#222222" stroke-width="0.15" >2</text>
<line x1="390.8" y1="203.5" x2="393.8" y2="203.5" stroke="#262626" stroke-width="0.9"/>
<text transform="translate(387,205.5) scale(0.9,1)" font-size="6.9" text-anchor="end" font-weight="normal" fill="#222222" stroke="#222222" stroke-width="0.15" >4</text>
<line x1="390.8" y1="190.5" x2="393.8" y2="190.5" stroke="#262626" stroke-width="0.9"/>
<text transform="translate(387,192.6) scale(0.9,1)" font-size="6.9" text-anchor="end" font-weight="normal" fill="#222222" stroke="#222222" stroke-width="0.15" >6</text>
<line x1="390.8" y1="177.5" x2="393.8" y2="177.5" stroke="#262626" stroke-width="0.9"/>
<text transform="translate(387,179.7) scale(0.9,1)" font-size="6.9" text-anchor="end" font-weight="normal" fill="#222222" stroke="#222222" stroke-width="0.15" >8</text>
<line x1="390.8" y1="164.5" x2="393.8" y2="164.5" stroke="#262626" stroke-width="0.9"/>
<text transform="translate(387,166.8) scale(0.9,1)" font-size="6.9" text-anchor="end" font-weight="normal" fill="#222222" stroke="#222222" stroke-width="0.15" >10</text>
<text transform="translate(401.3,237.4) rotate(-45) scale(0.77,1)" font-size="7.9" text-anchor="end" fill="#222222" stroke="#222222" stroke-width="0.16">Baseline</text>
<text transform="translate(413.46,237.4) rotate(-45) scale(0.77,1)" font-size="7.9" text-anchor="end" fill="#222222" stroke="#222222" stroke-width="0.16">Week 1</text>
<text transform="translate(425.62,237.4) rotate(-45) scale(0.77,1)" font-size="7.9" text-anchor="end" fill="#222222" stroke="#222222" stroke-width="0.16">Week 2</text>
<text transform="translate(437.78,237.4) rotate(-45) scale(0.77,1)" font-size="7.9" text-anchor="end" fill="#222222" stroke="#222222" stroke-width="0.16">Week 3</text>
<text transform="translate(449.94,237.4) rotate(-45) scale(0.77,1)" font-size="7.9" text-anchor="end" fill="#222222" stroke="#222222" stroke-width="0.16">Week 5</text>
<text transform="translate(462.1,237.4) rotate(-45) scale(0.77,1)" font-size="7.9" text-anchor="end" fill="#222222" stroke="#222222" stroke-width="0.16">Day 90</text>
<text transform="translate(474.26,237.4) rotate(-45) scale(0.77,1)" font-size="7.9" text-anchor="end" fill="#222222" stroke="#222222" stroke-width="0.16">Day 180</text>
<text transform="translate(486.42,237.4) rotate(-45) scale(0.77,1)" font-size="7.9" text-anchor="end" fill="#222222" stroke="#222222" stroke-width="0.16">Day 270</text>
<rect x="447.49" y="227.44" width="2.2" height="1.36" fill="#e8b060" stroke="#000" stroke-width="0.5" stroke-opacity="0.4"/>
<rect x="483.97" y="227.44" width="2.2" height="1.36" fill="#f3c090" stroke="#000" stroke-width="0.5" stroke-opacity="0.4"/>
<line x1="393.3" y1="228.5" x2="489.5" y2="228.5" stroke="#262626" stroke-width="1.0"/>
<line x1="399.5" y1="228" x2="399.5" y2="232" stroke="#262626" stroke-width="0.9"/>
<line x1="411.5" y1="228" x2="411.5" y2="232" stroke="#262626" stroke-width="0.9"/>
<line x1="423.5" y1="228" x2="423.5" y2="232" stroke="#262626" stroke-width="0.9"/>
<line x1="435.5" y1="228" x2="435.5" y2="232" stroke="#262626" stroke-width="0.9"/>
<line x1="448.5" y1="228" x2="448.5" y2="232" stroke="#262626" stroke-width="0.9"/>
<line x1="460.5" y1="228" x2="460.5" y2="232" stroke="#262626" stroke-width="0.9"/>
<line x1="472.5" y1="228" x2="472.5" y2="232" stroke="#262626" stroke-width="0.9"/>
<line x1="484.5" y1="228" x2="484.5" y2="232" stroke="#262626" stroke-width="0.9"/>
<text transform="translate(443.8,157.3) scale(0.88,1)" font-size="6.9" text-anchor="middle" font-weight="normal" fill="#222" stroke="#222" stroke-width="0.15" >P13</text>
<text x="360.4" y="147.3" font-size="10.2" font-weight="bold" fill="#111" stroke="#111" stroke-width="0.35">E</text>
<g transform="translate(374.6,220.7) rotate(-90)">
<text x="0" y="0" font-size="8.4" stroke="#1a1a1a" stroke-width="0.22" fill="#1a1a1a" textLength="42.6" lengthAdjust="spacingAndGlyphs">IFN<tspan font-size="7.14" dy="0.8">γ</tspan><tspan dy="-0.8"> SFU/1x10</tspan><tspan font-size="6.05" dy="-3.0">5</tspan></text>
</g>
<line x1="224.5" y1="288.5" x2="224.5" y2="356.7" stroke="#262626" stroke-width="1.0"/>
<line x1="221.3" y1="356.5" x2="224.3" y2="356.5" stroke="#262626" stroke-width="0.9"/>
<text transform="translate(217.5,358.7) scale(0.9,1)" font-size="6.9" text-anchor="end" font-weight="normal" fill="#222222" stroke="#222222" stroke-width="0.15" >0</text>
<line x1="221.3" y1="343.5" x2="224.3" y2="343.5" stroke="#262626" stroke-width="0.9"/>
<text transform="translate(217.5,345.76) scale(0.9,1)" font-size="6.9" text-anchor="end" font-weight="normal" fill="#222222" stroke="#222222" stroke-width="0.15" >2</text>
<line x1="221.3" y1="330.5" x2="224.3" y2="330.5" stroke="#262626" stroke-width="0.9"/>
<text transform="translate(217.5,332.82) scale(0.9,1)" font-size="6.9" text-anchor="end" font-weight="normal" fill="#222222" stroke="#222222" stroke-width="0.15" >4</text>
<line x1="221.3" y1="317.5" x2="224.3" y2="317.5" stroke="#262626" stroke-width="0.9"/>
<text transform="translate(217.5,319.88) scale(0.9,1)" font-size="6.9" text-anchor="end" font-weight="normal" fill="#222222" stroke="#222222" stroke-width="0.15" >6</text>
<line x1="221.3" y1="304.5" x2="224.3" y2="304.5" stroke="#262626" stroke-width="0.9"/>
<text transform="translate(217.5,306.94) scale(0.9,1)" font-size="6.9" text-anchor="end" font-weight="normal" fill="#222222" stroke="#222222" stroke-width="0.15" >8</text>
<line x1="221.3" y1="291.5" x2="224.3" y2="291.5" stroke="#262626" stroke-width="0.9"/>
<text transform="translate(217.5,294) scale(0.9,1)" font-size="6.9" text-anchor="end" font-weight="normal" fill="#222222" stroke="#222222" stroke-width="0.15" >10</text>
<line x1="321.5" y1="288.5" x2="321.5" y2="356.7" stroke="#262626" stroke-width="1.0"/>
<line x1="321.5" y1="356.5" x2="324.1" y2="356.5" stroke="#262626" stroke-width="0.9"/>
<text transform="translate(327.3,358.7) scale(0.88,1)" font-size="6.9" text-anchor="start" font-weight="normal" fill="#222222" stroke="#222222" stroke-width="0.15" >0.0</text>
<line x1="321.5" y1="343.5" x2="324.1" y2="343.5" stroke="#262626" stroke-width="0.9"/>
<text transform="translate(327.3,345.76) scale(0.88,1)" font-size="6.9" text-anchor="start" font-weight="normal" fill="#222222" stroke="#222222" stroke-width="0.15" >0.2</text>
<line x1="321.5" y1="330.5" x2="324.1" y2="330.5" stroke="#262626" stroke-width="0.9"/>
<text transform="translate(327.3,332.82) scale(0.88,1)" font-size="6.9" text-anchor="start" font-weight="normal" fill="#222222" stroke="#222222" stroke-width="0.15" >0.4</text>
<line x1="321.5" y1="317.5" x2="324.1" y2="317.5" stroke="#262626" stroke-width="0.9"/>
<text transform="translate(327.3,319.88) scale(0.88,1)" font-size="6.9" text-anchor="start" font-weight="normal" fill="#222222" stroke="#222222" stroke-width="0.15" >0.6</text>
<line x1="321.5" y1="304.5" x2="324.1" y2="304.5" stroke="#262626" stroke-width="0.9"/>
<text transform="translate(327.3,306.94) scale(0.88,1)" font-size="6.9" text-anchor="start" font-weight="normal" fill="#222222" stroke="#222222" stroke-width="0.15" >0.8</text>
<line x1="321.5" y1="291.5" x2="324.1" y2="291.5" stroke="#262626" stroke-width="0.9"/>
<text transform="translate(327.3,294) scale(0.88,1)" font-size="6.9" text-anchor="start" font-weight="normal" fill="#222222" stroke="#222222" stroke-width="0.15" >1.0</text>
<g transform="translate(343.2,322.2) rotate(90)">
<text x="0" y="0" font-size="8.4" stroke="#1a1a1a" stroke-width="0.22" text-anchor="middle" fill="#1a1a1a" textLength="43" lengthAdjust="spacingAndGlyphs">HHV6 copies/mL</text>
</g>
<text transform="translate(232,364.8) rotate(-45) scale(0.77,1)" font-size="7.9" text-anchor="end" fill="#222222" stroke="#222222" stroke-width="0.16">Baseline</text>
<text transform="translate(242.8,364.8) rotate(-45) scale(0.77,1)" font-size="7.9" text-anchor="end" fill="#222222" stroke="#222222" stroke-width="0.16">Week 1</text>
<text transform="translate(253.6,364.8) rotate(-45) scale(0.77,1)" font-size="7.9" text-anchor="end" fill="#222222" stroke="#222222" stroke-width="0.16">Week 3</text>
<text transform="translate(264.4,364.8) rotate(-45) scale(0.77,1)" font-size="7.9" text-anchor="end" fill="#222222" stroke="#222222" stroke-width="0.16">Week 5</text>
<text transform="translate(275.2,364.8) rotate(-45) scale(0.77,1)" font-size="7.9" text-anchor="end" fill="#222222" stroke="#222222" stroke-width="0.16">Week 6</text>
<text transform="translate(286,364.8) rotate(-45) scale(0.77,1)" font-size="7.9" text-anchor="end" fill="#222222" stroke="#222222" stroke-width="0.16">Week 8</text>
<text transform="translate(296.8,364.8) rotate(-45) scale(0.77,1)" font-size="7.9" text-anchor="end" fill="#222222" stroke="#222222" stroke-width="0.16">Day 180</text>
<text transform="translate(307.6,364.8) rotate(-45) scale(0.77,1)" font-size="7.9" text-anchor="end" fill="#222222" stroke="#222222" stroke-width="0.16">Day 270</text>
<text transform="translate(318.4,364.8) rotate(-45) scale(0.77,1)" font-size="7.9" text-anchor="end" fill="#222222" stroke="#222222" stroke-width="0.16">Day 365</text>
<rect x="247.45" y="348.69" width="2.2" height="7.51" fill="#0E4A80" stroke="#000" stroke-width="0.5" stroke-opacity="0.4"/>
<rect x="250.15" y="348.69" width="2.2" height="7.51" fill="#33A3DF" stroke="#000" stroke-width="0.5" stroke-opacity="0.4"/>
<rect x="271.75" y="355.8" width="2.2" height="0.4" fill="#33A3DF" stroke="#000" stroke-width="0.5" stroke-opacity="0.4"/>
<rect x="282.55" y="354.51" width="2.2" height="1.69" fill="#33A3DF" stroke="#000" stroke-width="0.5" stroke-opacity="0.4"/>
<rect x="301.45" y="353.86" width="2.2" height="2.34" fill="#0E4A80" stroke="#000" stroke-width="0.5" stroke-opacity="0.4"/>
<rect x="312.25" y="350.63" width="2.2" height="5.57" fill="#0E4A80" stroke="#000" stroke-width="0.5" stroke-opacity="0.4"/>
<rect x="314.95" y="342.22" width="2.2" height="13.98" fill="#33A3DF" stroke="#000" stroke-width="0.5" stroke-opacity="0.4"/>
<line x1="223.8" y1="356.5" x2="321.5" y2="356.5" stroke="#262626" stroke-width="1.0"/>
<line x1="240" y1="355.85" x2="316.4" y2="355.85" stroke="#DA2C88" stroke-width="1.1" stroke-opacity="0.9"/>
<line x1="229.5" y1="355.4" x2="229.5" y2="359.4" stroke="#262626" stroke-width="0.9"/>
<line x1="240.5" y1="355.4" x2="240.5" y2="359.4" stroke="#262626" stroke-width="0.9"/>
<line x1="250.5" y1="355.4" x2="250.5" y2="359.4" stroke="#262626" stroke-width="0.9"/>
<line x1="261.5" y1="355.4" x2="261.5" y2="359.4" stroke="#262626" stroke-width="0.9"/>
<line x1="272.5" y1="355.4" x2="272.5" y2="359.4" stroke="#262626" stroke-width="0.9"/>
<line x1="283.5" y1="355.4" x2="283.5" y2="359.4" stroke="#262626" stroke-width="0.9"/>
<line x1="294.5" y1="355.4" x2="294.5" y2="359.4" stroke="#262626" stroke-width="0.9"/>
<line x1="304.5" y1="355.4" x2="304.5" y2="359.4" stroke="#262626" stroke-width="0.9"/>
<line x1="315.5" y1="355.4" x2="315.5" y2="359.4" stroke="#262626" stroke-width="0.9"/>
<text transform="translate(273,282.7) scale(0.88,1)" font-size="6.9" text-anchor="middle" font-weight="normal" fill="#222" stroke="#222" stroke-width="0.15" >P4</text>
<text x="189.3" y="275.1" font-size="10.2" font-weight="bold" fill="#111" stroke="#111" stroke-width="0.35">G</text>
<g transform="translate(204.8,344.6) rotate(-90)">
<text x="0" y="0" font-size="8.4" stroke="#1a1a1a" stroke-width="0.22" fill="#1a1a1a" textLength="42.6" lengthAdjust="spacingAndGlyphs">IFN<tspan font-size="7.14" dy="0.8">γ</tspan><tspan dy="-0.8"> SFU/1x10</tspan><tspan font-size="6.05" dy="-3.0">5</tspan></text>
</g>
<line x1="394.5" y1="288.7" x2="394.5" y2="356.8" stroke="#262626" stroke-width="1.0"/>
<line x1="391" y1="356.5" x2="394" y2="356.5" stroke="#262626" stroke-width="0.9"/>
<text transform="translate(387.2,358.8) scale(0.9,1)" font-size="6.9" text-anchor="end" font-weight="normal" fill="#222222" stroke="#222222" stroke-width="0.15" >0</text>
<line x1="391" y1="334.5" x2="394" y2="334.5" stroke="#262626" stroke-width="0.9"/>
<text transform="translate(387.2,337.27) scale(0.9,1)" font-size="6.9" text-anchor="end" font-weight="normal" fill="#222222" stroke="#222222" stroke-width="0.15" >20</text>
<line x1="391" y1="313.5" x2="394" y2="313.5" stroke="#262626" stroke-width="0.9"/>
<text transform="translate(387.2,315.73) scale(0.9,1)" font-size="6.9" text-anchor="end" font-weight="normal" fill="#222222" stroke="#222222" stroke-width="0.15" >40</text>
<line x1="391" y1="291.5" x2="394" y2="291.5" stroke="#262626" stroke-width="0.9"/>
<text transform="translate(387.2,294.2) scale(0.9,1)" font-size="6.9" text-anchor="end" font-weight="normal" fill="#222222" stroke="#222222" stroke-width="0.15" >60</text>
<text transform="translate(401.1,364.9) rotate(-45) scale(0.77,1)" font-size="7.9" text-anchor="end" fill="#222222" stroke="#222222" stroke-width="0.16">Baseline</text>
<text transform="translate(413.3,364.9) rotate(-45) scale(0.77,1)" font-size="7.9" text-anchor="end" fill="#222222" stroke="#222222" stroke-width="0.16">Week 1</text>
<text transform="translate(425.5,364.9) rotate(-45) scale(0.77,1)" font-size="7.9" text-anchor="end" fill="#222222" stroke="#222222" stroke-width="0.16">Week 3</text>
<text transform="translate(437.7,364.9) rotate(-45) scale(0.77,1)" font-size="7.9" text-anchor="end" fill="#222222" stroke="#222222" stroke-width="0.16">Week 5</text>
<text transform="translate(449.9,364.9) rotate(-45) scale(0.77,1)" font-size="7.9" text-anchor="end" fill="#222222" stroke="#222222" stroke-width="0.16">Week 8</text>
<text transform="translate(462.1,364.9) rotate(-45) scale(0.77,1)" font-size="7.9" text-anchor="end" fill="#222222" stroke="#222222" stroke-width="0.16">Day 90</text>
<text transform="translate(474.3,364.9) rotate(-45) scale(0.77,1)" font-size="7.9" text-anchor="end" fill="#222222" stroke="#222222" stroke-width="0.16">Day 180</text>
<text transform="translate(486.5,364.9) rotate(-45) scale(0.77,1)" font-size="7.9" text-anchor="end" fill="#222222" stroke="#222222" stroke-width="0.16">Day 270</text>
<rect x="395.95" y="356.01" width="2.9" height="0.29" fill="#0E4A80" stroke="#000" stroke-width="0.5" stroke-opacity="0.4"/>
<rect x="408.15" y="355.47" width="2.9" height="0.83" fill="#0E4A80" stroke="#000" stroke-width="0.5" stroke-opacity="0.4"/>
<rect x="412.65" y="355.9" width="2.9" height="0.4" fill="#33A3DF" stroke="#000" stroke-width="0.5" stroke-opacity="0.4"/>
<rect x="420.35" y="355.9" width="2.9" height="0.4" fill="#0E4A80" stroke="#000" stroke-width="0.5" stroke-opacity="0.4"/>
<rect x="424.85" y="355.8" width="2.9" height="0.5" fill="#33A3DF" stroke="#000" stroke-width="0.5" stroke-opacity="0.4"/>
<rect x="444.75" y="355.47" width="2.9" height="0.83" fill="#0E4A80" stroke="#000" stroke-width="0.5" stroke-opacity="0.4"/>
<rect x="456.95" y="350.09" width="2.9" height="6.21" fill="#0E4A80" stroke="#000" stroke-width="0.5" stroke-opacity="0.4"/>
<rect x="461.45" y="348.37" width="2.9" height="7.93" fill="#33A3DF" stroke="#000" stroke-width="0.5" stroke-opacity="0.4"/>
<rect x="469.15" y="342.55" width="2.9" height="13.75" fill="#0E4A80" stroke="#000" stroke-width="0.5" stroke-opacity="0.4"/>
<rect x="473.65" y="302.72" width="2.9" height="53.58" fill="#33A3DF" stroke="#000" stroke-width="0.5" stroke-opacity="0.4"/>
<rect x="481.35" y="346.54" width="2.9" height="9.76" fill="#0E4A80" stroke="#000" stroke-width="0.5" stroke-opacity="0.4"/>
<rect x="485.85" y="332.86" width="2.9" height="23.44" fill="#33A3DF" stroke="#000" stroke-width="0.5" stroke-opacity="0.4"/>
<line x1="393.5" y1="356.5" x2="490.8" y2="356.5" stroke="#262626" stroke-width="1.0"/>
<line x1="399.5" y1="355.5" x2="399.5" y2="359.5" stroke="#262626" stroke-width="0.9"/>
<line x1="411.5" y1="355.5" x2="411.5" y2="359.5" stroke="#262626" stroke-width="0.9"/>
<line x1="423.5" y1="355.5" x2="423.5" y2="359.5" stroke="#262626" stroke-width="0.9"/>
<line x1="435.5" y1="355.5" x2="435.5" y2="359.5" stroke="#262626" stroke-width="0.9"/>
<line x1="448.5" y1="355.5" x2="448.5" y2="359.5" stroke="#262626" stroke-width="0.9"/>
<line x1="460.5" y1="355.5" x2="460.5" y2="359.5" stroke="#262626" stroke-width="0.9"/>
<line x1="472.5" y1="355.5" x2="472.5" y2="359.5" stroke="#262626" stroke-width="0.9"/>
<line x1="484.5" y1="355.5" x2="484.5" y2="359.5" stroke="#262626" stroke-width="0.9"/>
<text transform="translate(442.7,283.3) scale(0.88,1)" font-size="6.9" text-anchor="middle" font-weight="normal" fill="#222" stroke="#222" stroke-width="0.15" >P10</text>
<text x="359.3" y="275.1" font-size="10.2" font-weight="bold" fill="#111" stroke="#111" stroke-width="0.35">H</text>
<g transform="translate(374.6,344.6) rotate(-90)">
<text x="0" y="0" font-size="8.4" stroke="#1a1a1a" stroke-width="0.22" fill="#1a1a1a" textLength="42.6" lengthAdjust="spacingAndGlyphs">IFN<tspan font-size="7.14" dy="0.8">γ</tspan><tspan dy="-0.8"> SFU/1x10</tspan><tspan font-size="6.05" dy="-3.0">5</tspan></text>
</g>
<line x1="224.5" y1="415.9" x2="224.5" y2="483.9" stroke="#262626" stroke-width="1.0"/>
<line x1="221.5" y1="483.5" x2="224.5" y2="483.5" stroke="#262626" stroke-width="0.9"/>
<text transform="translate(217.7,485.9) scale(0.9,1)" font-size="6.9" text-anchor="end" font-weight="normal" fill="#222222" stroke="#222222" stroke-width="0.15" >0</text>
<line x1="221.5" y1="461.5" x2="224.5" y2="461.5" stroke="#262626" stroke-width="0.9"/>
<text transform="translate(217.7,464.4) scale(0.9,1)" font-size="6.9" text-anchor="end" font-weight="normal" fill="#222222" stroke="#222222" stroke-width="0.15" >10</text>
<line x1="221.5" y1="440.5" x2="224.5" y2="440.5" stroke="#262626" stroke-width="0.9"/>
<text transform="translate(217.7,442.9) scale(0.9,1)" font-size="6.9" text-anchor="end" font-weight="normal" fill="#222222" stroke="#222222" stroke-width="0.15" >20</text>
<line x1="221.5" y1="418.5" x2="224.5" y2="418.5" stroke="#262626" stroke-width="0.9"/>
<text transform="translate(217.7,421.4) scale(0.9,1)" font-size="6.9" text-anchor="end" font-weight="normal" fill="#222222" stroke="#222222" stroke-width="0.15" >30</text>
<line x1="321.5" y1="415.9" x2="321.5" y2="483.9" stroke="#262626" stroke-width="1.0"/>
<line x1="321.3" y1="483.5" x2="323.9" y2="483.5" stroke="#262626" stroke-width="0.9"/>
<text transform="translate(327.1,485.9) scale(0.88,1)" font-size="6.9" text-anchor="start" font-weight="normal" fill="#222222" stroke="#222222" stroke-width="0.15" >0.0</text>
<line x1="321.3" y1="470.5" x2="323.9" y2="470.5" stroke="#262626" stroke-width="0.9"/>
<text transform="translate(327.1,473) scale(0.88,1)" font-size="6.9" text-anchor="start" font-weight="normal" fill="#222222" stroke="#222222" stroke-width="0.15" >0.2</text>
<line x1="321.3" y1="457.5" x2="323.9" y2="457.5" stroke="#262626" stroke-width="0.9"/>
<text transform="translate(327.1,460.1) scale(0.88,1)" font-size="6.9" text-anchor="start" font-weight="normal" fill="#222222" stroke="#222222" stroke-width="0.15" >0.4</text>
<line x1="321.3" y1="444.5" x2="323.9" y2="444.5" stroke="#262626" stroke-width="0.9"/>
<text transform="translate(327.1,447.2) scale(0.88,1)" font-size="6.9" text-anchor="start" font-weight="normal" fill="#222222" stroke="#222222" stroke-width="0.15" >0.6</text>
<line x1="321.3" y1="431.5" x2="323.9" y2="431.5" stroke="#262626" stroke-width="0.9"/>
<text transform="translate(327.1,434.3) scale(0.88,1)" font-size="6.9" text-anchor="start" font-weight="normal" fill="#222222" stroke="#222222" stroke-width="0.15" >0.8</text>
<line x1="321.3" y1="418.5" x2="323.9" y2="418.5" stroke="#262626" stroke-width="0.9"/>
<text transform="translate(327.1,421.4) scale(0.88,1)" font-size="6.9" text-anchor="start" font-weight="normal" fill="#222222" stroke="#222222" stroke-width="0.15" >1.0</text>
<g transform="translate(343.5,448) rotate(90)">
<text x="0" y="0" font-size="8.4" stroke="#1a1a1a" stroke-width="0.22" text-anchor="middle" fill="#1a1a1a" textLength="59" lengthAdjust="spacingAndGlyphs">HHV6 PCR copies/mL</text>
</g>
<text transform="translate(231.7,492.6) rotate(-45) scale(0.77,1)" font-size="7.9" text-anchor="end" fill="#222222" stroke="#222222" stroke-width="0.16">Baseline</text>
<text transform="translate(240.6,492.6) rotate(-45) scale(0.77,1)" font-size="7.9" text-anchor="end" fill="#222222" stroke="#222222" stroke-width="0.16">Week 1</text>
<text transform="translate(249.5,492.6) rotate(-45) scale(0.77,1)" font-size="7.9" text-anchor="end" fill="#222222" stroke="#222222" stroke-width="0.16">Week 2</text>
<text transform="translate(258.4,492.6) rotate(-45) scale(0.77,1)" font-size="7.9" text-anchor="end" fill="#222222" stroke="#222222" stroke-width="0.16">Week 3</text>
<text transform="translate(267.3,492.6) rotate(-45) scale(0.77,1)" font-size="7.9" text-anchor="end" fill="#222222" stroke="#222222" stroke-width="0.16">Week 4</text>
<text transform="translate(276.2,492.6) rotate(-45) scale(0.77,1)" font-size="7.9" text-anchor="end" fill="#222222" stroke="#222222" stroke-width="0.16">Week 5</text>
<text transform="translate(285.1,492.6) rotate(-45) scale(0.77,1)" font-size="7.9" text-anchor="end" fill="#222222" stroke="#222222" stroke-width="0.16">Week 6</text>
<text transform="translate(294,492.6) rotate(-45) scale(0.77,1)" font-size="7.9" text-anchor="end" fill="#222222" stroke="#222222" stroke-width="0.16">Week 8</text>
<text transform="translate(302.9,492.6) rotate(-45) scale(0.77,1)" font-size="7.9" text-anchor="end" fill="#222222" stroke="#222222" stroke-width="0.16">Day 90</text>
<text transform="translate(311.8,492.6) rotate(-45) scale(0.77,1)" font-size="7.9" text-anchor="end" fill="#222222" stroke="#222222" stroke-width="0.16">Day 270</text>
<text transform="translate(320.7,492.6) rotate(-45) scale(0.77,1)" font-size="7.9" text-anchor="end" fill="#222222" stroke="#222222" stroke-width="0.16">Day 365</text>
<rect x="228.55" y="483" width="2.4" height="0.39" fill="#6b2050" stroke="#000" stroke-width="0.5" stroke-opacity="0.4"/>
<rect x="251.95" y="482.36" width="2.4" height="1.04" fill="#0E4A80" stroke="#000" stroke-width="0.5" stroke-opacity="0.4"/>
<rect x="260.85" y="478.92" width="2.4" height="4.48" fill="#33A3DF" stroke="#000" stroke-width="0.5" stroke-opacity="0.4"/>
<rect x="269.75" y="482.57" width="2.4" height="0.82" fill="#0E4A80" stroke="#000" stroke-width="0.5" stroke-opacity="0.4"/>
<rect x="273.05" y="483" width="2.4" height="0.39" fill="#33A3DF" stroke="#000" stroke-width="0.5" stroke-opacity="0.4"/>
<rect x="296.45" y="480.85" width="2.4" height="2.54" fill="#0E4A80" stroke="#000" stroke-width="0.5" stroke-opacity="0.4"/>
<rect x="299.75" y="481.5" width="2.4" height="1.9" fill="#33A3DF" stroke="#000" stroke-width="0.5" stroke-opacity="0.4"/>
<rect x="305.35" y="430.54" width="2.4" height="52.85" fill="#0E4A80" stroke="#000" stroke-width="0.5" stroke-opacity="0.4"/>
<rect x="308.65" y="442.8" width="2.4" height="40.6" fill="#33A3DF" stroke="#000" stroke-width="0.5" stroke-opacity="0.4"/>
<rect x="314.25" y="464.08" width="2.4" height="19.31" fill="#0E4A80" stroke="#000" stroke-width="0.5" stroke-opacity="0.4"/>
<rect x="317.55" y="463.01" width="2.4" height="20.39" fill="#33A3DF" stroke="#000" stroke-width="0.5" stroke-opacity="0.4"/>
<line x1="224" y1="483.5" x2="321.3" y2="483.5" stroke="#262626" stroke-width="1.0"/>
<line x1="227.9" y1="483.05" x2="317.7" y2="483.05" stroke="#DA2C88" stroke-width="1.1" stroke-opacity="0.9"/>
<line x1="227.5" y1="482.6" x2="227.5" y2="486.6" stroke="#262626" stroke-width="0.9"/>
<line x1="236.5" y1="482.6" x2="236.5" y2="486.6" stroke="#262626" stroke-width="0.9"/>
<line x1="245.5" y1="482.6" x2="245.5" y2="486.6" stroke="#262626" stroke-width="0.9"/>
<line x1="254.5" y1="482.6" x2="254.5" y2="486.6" stroke="#262626" stroke-width="0.9"/>
<line x1="263.5" y1="482.6" x2="263.5" y2="486.6" stroke="#262626" stroke-width="0.9"/>
<line x1="272.5" y1="482.6" x2="272.5" y2="486.6" stroke="#262626" stroke-width="0.9"/>
<line x1="281.5" y1="482.6" x2="281.5" y2="486.6" stroke="#262626" stroke-width="0.9"/>
<line x1="290.5" y1="482.6" x2="290.5" y2="486.6" stroke="#262626" stroke-width="0.9"/>
<line x1="299.5" y1="482.6" x2="299.5" y2="486.6" stroke="#262626" stroke-width="0.9"/>
<line x1="308.5" y1="482.6" x2="308.5" y2="486.6" stroke="#262626" stroke-width="0.9"/>
<line x1="316.5" y1="482.6" x2="316.5" y2="486.6" stroke="#262626" stroke-width="0.9"/>
<text transform="translate(267.4,410.2) scale(0.88,1)" font-size="6.9" text-anchor="middle" font-weight="normal" fill="#222" stroke="#222" stroke-width="0.15" >P12</text>
<text x="189.2" y="401.8" font-size="10.2" font-weight="bold" fill="#111" stroke="#111" stroke-width="0.35">I</text>
<g transform="translate(204.8,471.6) rotate(-90)">
<text x="0" y="0" font-size="8.4" stroke="#1a1a1a" stroke-width="0.22" fill="#1a1a1a" textLength="42.6" lengthAdjust="spacingAndGlyphs">IFN<tspan font-size="7.14" dy="0.8">γ</tspan><tspan dy="-0.8"> SFU/1x10</tspan><tspan font-size="6.05" dy="-3.0">5</tspan></text>
</g>
<line x1="393.5" y1="415.9" x2="393.5" y2="483.8" stroke="#262626" stroke-width="1.0"/>
<line x1="390.9" y1="483.5" x2="393.9" y2="483.5" stroke="#262626" stroke-width="0.9"/>
<text transform="translate(387.1,485.8) scale(0.9,1)" font-size="6.9" text-anchor="end" font-weight="normal" fill="#222222" stroke="#222222" stroke-width="0.15" >0</text>
<line x1="390.9" y1="470.5" x2="393.9" y2="470.5" stroke="#262626" stroke-width="0.9"/>
<text transform="translate(387.1,472.92) scale(0.9,1)" font-size="6.9" text-anchor="end" font-weight="normal" fill="#222222" stroke="#222222" stroke-width="0.15" >2</text>
<line x1="390.9" y1="457.5" x2="393.9" y2="457.5" stroke="#262626" stroke-width="0.9"/>
<text transform="translate(387.1,460.04) scale(0.9,1)" font-size="6.9" text-anchor="end" font-weight="normal" fill="#222222" stroke="#222222" stroke-width="0.15" >4</text>
<line x1="390.9" y1="444.5" x2="393.9" y2="444.5" stroke="#262626" stroke-width="0.9"/>
<text transform="translate(387.1,447.16) scale(0.9,1)" font-size="6.9" text-anchor="end" font-weight="normal" fill="#222222" stroke="#222222" stroke-width="0.15" >6</text>
<line x1="390.9" y1="431.5" x2="393.9" y2="431.5" stroke="#262626" stroke-width="0.9"/>
<text transform="translate(387.1,434.28) scale(0.9,1)" font-size="6.9" text-anchor="end" font-weight="normal" fill="#222222" stroke="#222222" stroke-width="0.15" >8</text>
<line x1="390.9" y1="418.5" x2="393.9" y2="418.5" stroke="#262626" stroke-width="0.9"/>
<text transform="translate(387.1,421.4) scale(0.9,1)" font-size="6.9" text-anchor="end" font-weight="normal" fill="#222222" stroke="#222222" stroke-width="0.15" >10</text>
<line x1="490.5" y1="415.9" x2="490.5" y2="483.8" stroke="#262626" stroke-width="1.0"/>
<line x1="490.2" y1="483.5" x2="492.8" y2="483.5" stroke="#262626" stroke-width="0.9"/>
<text transform="translate(496,485.8) scale(0.88,1)" font-size="6.9" text-anchor="start" font-weight="normal" fill="#222222" stroke="#222222" stroke-width="0.15" >0.0</text>
<line x1="490.2" y1="470.5" x2="492.8" y2="470.5" stroke="#262626" stroke-width="0.9"/>
<text transform="translate(496,472.92) scale(0.88,1)" font-size="6.9" text-anchor="start" font-weight="normal" fill="#222222" stroke="#222222" stroke-width="0.15" >0.2</text>
<line x1="490.2" y1="457.5" x2="492.8" y2="457.5" stroke="#262626" stroke-width="0.9"/>
<text transform="translate(496,460.04) scale(0.88,1)" font-size="6.9" text-anchor="start" font-weight="normal" fill="#222222" stroke="#222222" stroke-width="0.15" >0.4</text>
<line x1="490.2" y1="444.5" x2="492.8" y2="444.5" stroke="#262626" stroke-width="0.9"/>
<text transform="translate(496,447.16) scale(0.88,1)" font-size="6.9" text-anchor="start" font-weight="normal" fill="#222222" stroke="#222222" stroke-width="0.15" >0.6</text>
<line x1="490.2" y1="431.5" x2="492.8" y2="431.5" stroke="#262626" stroke-width="0.9"/>
<text transform="translate(496,434.28) scale(0.88,1)" font-size="6.9" text-anchor="start" font-weight="normal" fill="#222222" stroke="#222222" stroke-width="0.15" >0.8</text>
<line x1="490.2" y1="418.5" x2="492.8" y2="418.5" stroke="#262626" stroke-width="0.9"/>
<text transform="translate(496,421.4) scale(0.88,1)" font-size="6.9" text-anchor="start" font-weight="normal" fill="#222222" stroke="#222222" stroke-width="0.15" >1.0</text>
<g transform="translate(512.5,449.5) rotate(90)">
<text x="0" y="0" font-size="8.4" stroke="#1a1a1a" stroke-width="0.22" text-anchor="middle" fill="#1a1a1a" textLength="56" lengthAdjust="spacingAndGlyphs">HHV6 PCR copies/mL</text>
</g>
<text transform="translate(401.3,491.9) rotate(-45) scale(0.77,1)" font-size="7.9" text-anchor="end" fill="#222222" stroke="#222222" stroke-width="0.16">Baseline</text>
<text transform="translate(413.45,491.9) rotate(-45) scale(0.77,1)" font-size="7.9" text-anchor="end" fill="#222222" stroke="#222222" stroke-width="0.16">Week 1</text>
<text transform="translate(425.6,491.9) rotate(-45) scale(0.77,1)" font-size="7.9" text-anchor="end" fill="#222222" stroke="#222222" stroke-width="0.16">Week 2</text>
<text transform="translate(437.75,491.9) rotate(-45) scale(0.77,1)" font-size="7.9" text-anchor="end" fill="#222222" stroke="#222222" stroke-width="0.16">Week 3</text>
<text transform="translate(449.9,491.9) rotate(-45) scale(0.77,1)" font-size="7.9" text-anchor="end" fill="#222222" stroke="#222222" stroke-width="0.16">Week 5</text>
<text transform="translate(462.05,491.9) rotate(-45) scale(0.77,1)" font-size="7.9" text-anchor="end" fill="#222222" stroke="#222222" stroke-width="0.16">Day 90</text>
<text transform="translate(474.2,491.9) rotate(-45) scale(0.77,1)" font-size="7.9" text-anchor="end" fill="#222222" stroke="#222222" stroke-width="0.16">Day 180</text>
<text transform="translate(486.35,491.9) rotate(-45) scale(0.77,1)" font-size="7.9" text-anchor="end" fill="#222222" stroke="#222222" stroke-width="0.16">Day 270</text>
<rect x="456.1" y="475.82" width="2.2" height="7.48" fill="#0E4A80" stroke="#000" stroke-width="0.5" stroke-opacity="0.4"/>
<rect x="480.4" y="482.78" width="2.2" height="0.52" fill="#0E4A80" stroke="#000" stroke-width="0.5" stroke-opacity="0.4"/>
<line x1="393.4" y1="483.5" x2="490.2" y2="483.5" stroke="#262626" stroke-width="1.0"/>
<line x1="399.5" y1="482.95" x2="485.35" y2="482.95" stroke="#DA2C88" stroke-width="1.1" stroke-opacity="0.9"/>
<line x1="399.5" y1="482.5" x2="399.5" y2="486.5" stroke="#262626" stroke-width="0.9"/>
<line x1="411.5" y1="482.5" x2="411.5" y2="486.5" stroke="#262626" stroke-width="0.9"/>
<line x1="423.5" y1="482.5" x2="423.5" y2="486.5" stroke="#262626" stroke-width="0.9"/>
<line x1="435.5" y1="482.5" x2="435.5" y2="486.5" stroke="#262626" stroke-width="0.9"/>
<line x1="448.5" y1="482.5" x2="448.5" y2="486.5" stroke="#262626" stroke-width="0.9"/>
<line x1="460.5" y1="482.5" x2="460.5" y2="486.5" stroke="#262626" stroke-width="0.9"/>
<line x1="472.5" y1="482.5" x2="472.5" y2="486.5" stroke="#262626" stroke-width="0.9"/>
<line x1="484.5" y1="482.5" x2="484.5" y2="486.5" stroke="#262626" stroke-width="0.9"/>
<text transform="translate(442.4,410.2) scale(0.88,1)" font-size="6.9" text-anchor="middle" font-weight="normal" fill="#222" stroke="#222" stroke-width="0.15" >P13</text>
<text x="362.6" y="401.2" font-size="10.2" font-weight="bold" fill="#111" stroke="#111" stroke-width="0.35">J</text>
<g transform="translate(374.6,471.6) rotate(-90)">
<text x="0" y="0" font-size="8.4" stroke="#1a1a1a" stroke-width="0.22" fill="#1a1a1a" textLength="42.6" lengthAdjust="spacingAndGlyphs">IFN<tspan font-size="7.14" dy="0.8">γ</tspan><tspan dy="-0.8"> SFU/1x10</tspan><tspan font-size="6.05" dy="-3.0">5</tspan></text>
</g>
</svg></body></html>
